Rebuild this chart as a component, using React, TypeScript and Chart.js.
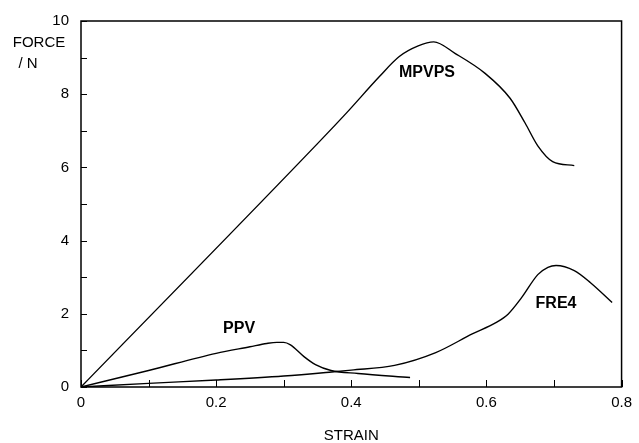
import React, { useEffect, useRef } from "react";
import { Chart, registerables } from "chart.js";

Chart.register(...registerables);

const mpvpsX = [0, 0.35, 0.393, 0.442, 0.471, 0.499, 0.522, 0.554, 0.598, 0.635, 0.657, 0.676, 0.698, 0.73];
const mpvpsY = [0, 6.65, 7.49, 8.49, 9.03, 9.32, 9.43, 9.11, 8.57, 7.89, 7.22, 6.59, 6.16, 6.05];

const ppvX = [0, 0.1, 0.2, 0.25, 0.275, 0.29, 0.3, 0.31, 0.33, 0.347, 0.37, 0.41, 0.487];
const ppvY = [0, 0.45, 0.92, 1.1, 1.19, 1.22, 1.22, 1.15, 0.83, 0.61, 0.45, 0.37, 0.26];

const fre4X = [0, 0.1, 0.2, 0.3, 0.371, 0.4, 0.464, 0.525, 0.579, 0.614, 0.632, 0.652, 0.676, 0.691, 0.703, 0.73, 0.754, 0.786];
const fre4Y = [0, 0.1, 0.19, 0.3, 0.41, 0.46, 0.59, 0.94, 1.45, 1.76, 1.99, 2.44, 3.07, 3.27, 3.32, 3.18, 2.85, 2.31];

const seriesNames = ["MPVPS", "PPV", "FRE4"];
const labelX = [0.512, 0.234, 0.703];
const labelY = [8.59, 1.59, 2.27];

const xTickLabels = ["0", "0.2", "0.4", "0.6", "0.8"];
const yTickLabels = ["0", "2", "4", "6", "8", "10"];

const FONT = "'Liberation Sans', Arial, sans-serif";

const toPoints = (xs: number[], ys: number[]) => xs.map((x, i) => ({ x, y: ys[i] }));

const framePlugin = {
  id: "frame",
  afterDraw(chart: any) {
    const { ctx, chartArea, scales } = chart;
    const xs = scales.x;
    const ys = scales.y;
    ctx.save();
    ctx.strokeStyle = "#000";
    ctx.lineWidth = 1.5;
    ctx.strokeRect(chartArea.left, chartArea.top, chartArea.right - chartArea.left, chartArea.bottom - chartArea.top);
    ctx.lineWidth = 1;
    for (let v = 0; v <= 10; v++) {
      const py = Math.round(ys.getPixelForValue(v)) + 0.5;
      ctx.beginPath();
      ctx.moveTo(chartArea.left, py);
      ctx.lineTo(chartArea.left + 6, py);
      ctx.stroke();
    }
    for (let i = 0; i <= 8; i++) {
      const px = Math.round(xs.getPixelForValue(i / 10)) + 0.5;
      ctx.beginPath();
      ctx.moveTo(px, chartArea.bottom);
      ctx.lineTo(px, chartArea.bottom - 7);
      ctx.stroke();
    }
    ctx.fillStyle = "#000";
    ctx.font = `15px ${FONT}`;
    ctx.textAlign = "center";
    ctx.textBaseline = "middle";
    ctx.fillText("FORCE", 39, 43);
    ctx.fillText("/ N", 28, 64);
    ctx.fillText("STRAIN", (chartArea.left + chartArea.right) / 2, 436);
    ctx.font = `bold 16px ${FONT}`;
    seriesNames.forEach((n, i) => {
      ctx.fillText(n, xs.getPixelForValue(labelX[i]), ys.getPixelForValue(labelY[i]));
    });
    ctx.restore();
  },
};

export default function App() {
  const ref = useRef<HTMLCanvasElement>(null);
  useEffect(() => {
    document.body.style.margin = "0";
    const lineDs = (label: string, xs: number[], ys: number[]) => ({
      label,
      data: toPoints(xs, ys),
      borderColor: "#000",
      borderWidth: 1.4,
      pointRadius: 0,
      fill: false,
      cubicInterpolationMode: "monotone" as const,
    });
    const chart = new Chart(ref.current!, {
      type: "line",
      data: {
        datasets: [
          lineDs("MPVPS", mpvpsX, mpvpsY),
          lineDs("PPV", ppvX, ppvY),
          lineDs("FRE4", fre4X, fre4Y),
        ],
      },
      options: {
        animation: false,
        responsive: false,
        layout: { padding: { top: 17, right: 10, left: 0, bottom: 0 } },
        plugins: { legend: { display: false }, tooltip: { enabled: false } },
        scales: {
          x: {
            type: "linear",
            min: 0,
            max: 0.8,
            grid: { display: false, drawTicks: false },
            border: { display: false },
            afterFit: (s: any) => { s.height = 56; },
            afterBuildTicks: (s: any) => {
              s.ticks = xTickLabels.map((t) => ({ value: parseFloat(t) }));
            },
            ticks: {
              color: "#000",
              font: { family: FONT, size: 15 },
              padding: 7,
              maxRotation: 0,
              callback: (v: any) => xTickLabels.find((t) => Math.abs(parseFloat(t) - v) < 1e-6) ?? "",
            },
          },
          y: {
            type: "linear",
            min: 0,
            max: 10,
            grid: { display: false, drawTicks: false },
            border: { display: false },
            afterFit: (s: any) => { s.width = 81; },
            afterBuildTicks: (s: any) => {
              s.ticks = yTickLabels.map((t) => ({ value: parseFloat(t) }));
            },
            ticks: {
              color: "#000",
              font: { family: FONT, size: 15 },
              padding: 12,
              callback: (v: any) => yTickLabels.find((t) => Math.abs(parseFloat(t) - v) < 1e-6) ?? "",
            },
          },
        },
      },
      plugins: [framePlugin],
    });
    return () => chart.destroy();
  }, []);
  return (
    <div style={{ width: 639, height: 443, background: "#fff" }}>
      <canvas ref={ref} width={639} height={443} />
    </div>
  );
}
